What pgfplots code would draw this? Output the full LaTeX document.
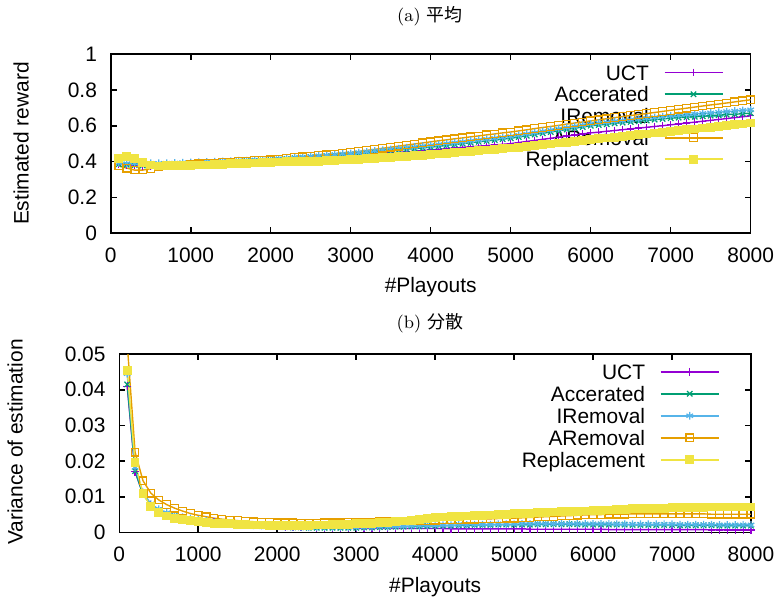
\documentclass[border=0pt]{standalone}
\usepackage{pgfplots}
\pgfplotsset{compat=1.18}
\usepackage{pgfplotstable}
\usepackage{fontspec}
\newfontfamily\gp{Liberation Sans}
\newfontfamily\cjk{Noto Sans CJK JP}

\definecolor{gpPurple}{HTML}{9400D3}
\definecolor{gpGreen}{HTML}{009E73}
\definecolor{gpBlue}{HTML}{56B4E9}
\definecolor{gpOrange}{HTML}{E69F00}
\definecolor{gpYellow}{HTML}{F0E442}

% mean estimate: playouts, UCT, Accerated, IRemoval, ARemoval, Replacement
\pgfplotstableread{
x u a i r p
100 .385 .385 .392 .375 .415
200 .380 .382 .388 .363 .426
300 .377 .380 .390 .352 .415
400 .375 .378 .391 .352 .393
500 .375 .379 .390 .360 .381
600 .376 .380 .390 .370 .375
700 .378 .382 .391 .375 .376
800 .380 .384 .392 .378 .377
900 .382 .386 .394 .381 .376
1000 .384 .388 .395 .385 .378
1100 .386 .390 .396 .387 .380
1200 .388 .392 .398 .390 .381
1300 .390 .394 .399 .392 .383
1400 .392 .396 .401 .395 .385
1500 .394 .398 .402 .397 .387
1600 .396 .400 .404 .400 .389
1700 .398 .402 .405 .402 .390
1800 .400 .404 .407 .405 .392
1900 .403 .406 .408 .407 .394
2000 .405 .408 .410 .410 .396
2100 .407 .411 .414 .414 .397
2200 .410 .414 .417 .418 .398
2300 .412 .418 .421 .422 .399
2400 .415 .421 .424 .426 .400
2500 .417 .424 .428 .430 .401
2600 .420 .427 .431 .434 .402
2700 .422 .430 .435 .438 .404
2800 .425 .434 .438 .442 .406
2900 .427 .437 .442 .446 .408
3000 .430 .440 .445 .450 .410
3100 .433 .444 .450 .456 .413
3200 .437 .448 .454 .462 .416
3300 .440 .452 .459 .468 .418
3400 .444 .456 .463 .474 .421
3500 .447 .460 .468 .480 .424
3600 .451 .464 .472 .486 .427
3700 .454 .468 .477 .492 .430
3800 .458 .472 .481 .498 .432
3900 .461 .476 .486 .504 .435
4000 .465 .480 .490 .510 .438
4100 .468 .485 .495 .516 .442
4200 .472 .490 .500 .521 .445
4300 .475 .495 .505 .527 .449
4400 .479 .500 .510 .532 .453
4500 .482 .505 .515 .538 .456
4600 .486 .510 .520 .543 .460
4700 .489 .515 .525 .549 .464
4800 .493 .520 .530 .554 .467
4900 .496 .525 .535 .560 .471
5000 .500 .530 .540 .565 .475
5100 .506 .537 .547 .571 .480
5200 .512 .544 .554 .577 .484
5300 .518 .551 .561 .584 .489
5400 .524 .558 .568 .590 .494
5500 .530 .565 .575 .596 .498
5600 .536 .572 .582 .602 .503
5700 .542 .579 .589 .609 .508
5800 .548 .586 .596 .615 .513
5900 .554 .593 .603 .621 .517
6000 .560 .600 .610 .627 .522
6100 .564 .604 .615 .633 .527
6200 .569 .608 .619 .639 .531
6300 .573 .613 .624 .645 .536
6400 .578 .617 .628 .651 .540
6500 .582 .621 .633 .657 .545
6600 .587 .625 .637 .662 .550
6700 .591 .629 .642 .668 .554
6800 .596 .634 .646 .674 .559
6900 .600 .638 .651 .680 .563
7000 .605 .642 .655 .686 .568
7100 .610 .645 .658 .692 .573
7200 .615 .648 .662 .698 .577
7300 .620 .650 .665 .704 .582
7400 .625 .653 .669 .710 .587
7500 .630 .656 .672 .716 .592
7600 .635 .659 .675 .721 .596
7700 .640 .662 .679 .727 .601
7800 .645 .664 .682 .733 .606
7900 .650 .667 .686 .739 .610
8000 .655 .670 .689 .745 .615
}\meantable

% variance of the estimate
\pgfplotstableread{
x u a i r p
100 .0410 .0415 .0445 .0530 .0455
200 .0170 .0172 .0182 .0225 .0195
300 .0108 .0106 .0112 .0145 .0108
400 .0078 .0077 .0080 .0110 .0073
500 .0063 .0062 .0065 .0091 .0055
600 .0053 .0052 .0055 .0078 .0046
700 .0047 .0046 .0048 .0068 .0040
800 .0042 .0041 .0043 .0060 .0036
900 .0038 .0037 .0039 .0053 .0033
1000 .0035 .0034 .0035 .0048 .0030
1100 .0032 .0031 .0032 .0044 .0028
1200 .0029 .0028 .0029 .0040 .0026
1300 .0027 .0026 .0027 .0037 .0025
1400 .0025 .0024 .0025 .0035 .0024
1500 .0023 .0022 .0023 .0033 .0023
1600 .0022 .0021 .0021 .0031 .0022
1700 .0020 .0019 .0020 .0030 .0021
1800 .0019 .0018 .0019 .0029 .0021
1900 .0018 .0017 .0018 .0028 .0020
2000 .0017 .0016 .0017 .0027 .0020
2100 .0016 .0015 .0016 .0027 .0020
2200 .0015 .0014 .0015 .0027 .0020
2300 .0015 .0014 .0015 .0026 .0020
2400 .0014 .0013 .0014 .0026 .0020
2500 .0013 .0013 .0014 .0026 .0021
2600 .0013 .0013 .0014 .0027 .0021
2700 .0012 .0013 .0014 .0027 .0022
2800 .0012 .0013 .0014 .0027 .0022
2900 .0012 .0013 .0014 .0028 .0023
3000 .0011 .0013 .0014 .0028 .0024
3100 .0011 .0014 .0015 .0029 .0025
3200 .0011 .0014 .0015 .0029 .0026
3300 .0011 .0015 .0016 .0030 .0027
3400 .0011 .0015 .0016 .0030 .0028
3500 .0011 .0016 .0017 .0031 .0030
3600 .0011 .0016 .0017 .0032 .0032
3700 .0011 .0017 .0018 .0032 .0034
3800 .0011 .0017 .0018 .0033 .0037
3900 .0011 .0018 .0019 .0033 .0039
4000 .0011 .0018 .0019 .0034 .0041
4100 .0011 .0019 .0020 .0035 .0043
4200 .0010 .0019 .0020 .0035 .0044
4300 .0010 .0020 .0021 .0036 .0045
4400 .0010 .0020 .0021 .0037 .0046
4500 .0010 .0021 .0022 .0037 .0047
4600 .0010 .0021 .0022 .0038 .0048
4700 .0010 .0021 .0022 .0038 .0049
4800 .0010 .0022 .0023 .0039 .0050
4900 .0010 .0022 .0023 .0040 .0051
5000 .0010 .0022 .0023 .0040 .0052
5100 .0010 .0022 .0024 .0041 .0053
5200 .0009 .0022 .0024 .0042 .0054
5300 .0009 .0023 .0024 .0043 .0055
5400 .0009 .0023 .0024 .0044 .0056
5500 .0009 .0023 .0024 .0045 .0057
5600 .0009 .0023 .0024 .0046 .0058
5700 .0009 .0023 .0024 .0047 .0059
5800 .0009 .0023 .0024 .0048 .0059
5900 .0009 .0022 .0024 .0049 .0060
6000 .0009 .0022 .0024 .0050 .0061
6100 .0009 .0022 .0024 .0050 .0062
6200 .0008 .0022 .0024 .0051 .0063
6300 .0008 .0022 .0023 .0051 .0064
6400 .0008 .0022 .0023 .0051 .0065
6500 .0008 .0021 .0023 .0052 .0066
6600 .0008 .0021 .0023 .0052 .0066
6700 .0008 .0021 .0023 .0052 .0067
6800 .0008 .0021 .0023 .0052 .0068
6900 .0008 .0021 .0023 .0052 .0068
7000 .0008 .0021 .0023 .0052 .0069
7100 .0008 .0020 .0022 .0052 .0069
7200 .0008 .0020 .0022 .0052 .0070
7300 .0008 .0020 .0022 .0052 .0070
7400 .0008 .0020 .0022 .0052 .0070
7500 .0007 .0020 .0022 .0051 .0071
7600 .0007 .0019 .0021 .0051 .0071
7700 .0007 .0019 .0021 .0051 .0071
7800 .0007 .0019 .0021 .0051 .0071
7900 .0007 .0019 .0021 .0051 .0071
8000 .0007 .0019 .0021 .0051 .0071
}\vartable

\pgfplotsset{
  /pgfplots/layers/legendbehind/.define layer set={
    axis background,axis grid,axis ticks,axis lines,axis tick labels,axis descriptions,pre main,main,axis foreground
  }{/pgfplots/layers/standard},
  gpaxis/.style={
    set layers=legendbehind,
    scale only axis,
    anchor=south west,
    xmin=0, xmax=8000,
    xtick={0,1000,2000,3000,4000,5000,6000,7000,8000},
    xticklabels={0,1000,2000,3000,4000,5000,6000,7000,8000},
    scaled x ticks=false, scaled y ticks=false,
    tick align=inside,
    major tick length=3bp,
    tick style={black, line width=0.8bp},
    axis line style={line width=0.8bp},
    tick label style={font=\gp\fontsize{10.5}{12}\selectfont},
    xticklabel style={inner sep=0pt, anchor=north, yshift=-7bp},
    yticklabel style={inner sep=0pt, anchor=east, xshift=-6.7bp},
    xlabel={\#Playouts},
    legend plot pos=right,
    legend cell align=right,
    legend style={draw=none, fill=none, inner sep=0pt, row sep=0pt, column sep=7.4bp,
      font=\gp\fontsize{10.5}{12}\selectfont, anchor=north east},
    legend image code/.code={
      \draw[mark repeat=2,mark phase=2,#1,line width=0.9bp] plot coordinates {(0bp,0bp) (14.5bp,0bp) (29bp,0bp)};
    },
  },
  uct/.style={color=gpPurple, line width=0.7bp, mark=+, mark size=1.9bp, mark options={solid, line width=0.6bp}},
  acc/.style={color=gpGreen, line width=0.7bp, mark=x, mark size=1.9bp, mark options={solid, line width=0.6bp}},
  irem/.style={color=gpBlue, line width=0.7bp, mark=asterisk, mark size=1.9bp, mark options={solid, line width=0.6bp}},
  arem/.style={color=gpOrange, line width=0.7bp, mark=square, mark size=1.9bp, mark options={solid, line width=0.6bp}},
  repl/.style={color=gpYellow, line width=0.7bp, mark=square*, mark size=1.9bp, mark options={solid, line width=0.6bp}},
}

\begin{document}
\begin{tikzpicture}
\path (0,0) rectangle (390bp,300bp);

\node[font=\fontsize{9}{11}\selectfont] at (215bp,292.5bp) {(a) {\cjk 平均}};
\node[font=\fontsize{9}{11}\selectfont] at (215bp,139bp) {(b) {\cjk 分散}};

% (a) mean
\begin{axis}[gpaxis,
  at={(55.35bp,184.15bp)},
  width=320bp, height=89.5bp,
  ymin=0, ymax=1,
  ytick={0,0.2,0.4,0.6,0.8,1},
  yticklabels={0,0.2,0.4,0.6,0.8,1},
  ylabel={Estimated reward},
  every axis y label/.style={at={(axis description cs:-0.140,0.5)}, rotate=90, anchor=center, font=\gp\fontsize{10.5}{12}\selectfont},
  every axis x label/.style={at={(axis description cs:0.5,-0.303)}, anchor=center, font=\gp\fontsize{10.5}{12}\selectfont},
  legend style={at={(0.958,0.960)}, nodes={inner sep=0pt, text height=9.17bp, text depth=1.68bp}},
]
\addplot[uct] table[x=x,y=u] {\meantable};
\addlegendentry{UCT}
\addplot[acc] table[x=x,y=a] {\meantable};
\addlegendentry{Accerated}
\addplot[irem] table[x=x,y=i] {\meantable};
\addlegendentry{IRemoval}
\addplot[arem] table[x=x,y=r] {\meantable};
\addlegendentry{ARemoval}
\addplot[repl] table[x=x,y=p] {\meantable};
\addlegendentry{Replacement}
\end{axis}

% (b) variance
\begin{axis}[gpaxis,
  at={(59.65bp,34.5bp)},
  width=315.85bp, height=89.15bp,
  ymin=0, ymax=0.05,
  ytick={0,0.01,0.02,0.03,0.04,0.05},
  yticklabels={0,0.01,0.02,0.03,0.04,0.05},
  ylabel={Variance of estimation},
  every axis y label/.style={at={(axis description cs:-0.165,0.507)}, rotate=90, anchor=center, font=\gp\fontsize{10.5}{12}\selectfont},
  every axis x label/.style={at={(axis description cs:0.5,-0.309)}, anchor=center, font=\gp\fontsize{10.5}{12}\selectfont},
  legend style={at={(0.951,0.965)}, nodes={inner sep=0pt, text height=9.25bp, text depth=1.75bp}},
]
\addplot[uct] table[x=x,y=u] {\vartable};
\addlegendentry{UCT}
\addplot[acc] table[x=x,y=a] {\vartable};
\addlegendentry{Accerated}
\addplot[irem] table[x=x,y=i] {\vartable};
\addlegendentry{IRemoval}
\addplot[arem] table[x=x,y=r] {\vartable};
\addlegendentry{ARemoval}
\addplot[repl] table[x=x,y=p] {\vartable};
\addlegendentry{Replacement}
\end{axis}
\end{tikzpicture}
\end{document}
